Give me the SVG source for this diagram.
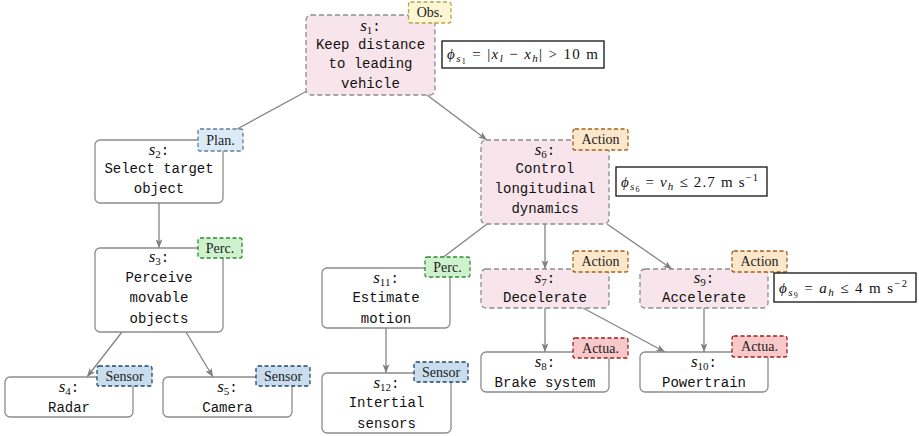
<svg xmlns="http://www.w3.org/2000/svg" width="919" height="436" viewBox="0 0 919 436">
<defs>
<marker id="arr" viewBox="0 0 10 8" refX="10" refY="4" markerWidth="9" markerHeight="7" markerUnits="userSpaceOnUse" orient="auto">
<path d="M0,0 L10,4 L0,8 L2.5,4 z" fill="#808080"/>
</marker>
<style>
.edge{stroke:#848484;stroke-width:1.3;fill:none;marker-end:url(#arr)}
.box{fill:#ffffff;stroke:#8c8c8c;stroke-width:1.3}
.dbox{fill:#f8e4eb;stroke:#8c8c8c;stroke-width:1.3;stroke-dasharray:5 3}
.tag{stroke-width:1.3;stroke-dasharray:4 2.5}
.obs{fill:#fdf6d4;stroke:#b2a545}
.plan{fill:#dbeaf7;stroke:#5d7f97}
.perc{fill:#cdf2cd;stroke:#2f8a2f}
.act{fill:#fde7cb;stroke:#a2621a}
.actua{fill:#f9c9c9;stroke:#a01c1c}
.sens{fill:#c9ddee;stroke:#1f4a6c}
.tt{font-family:"Liberation Serif","DejaVu Serif",serif;font-size:14px;fill:#222;text-anchor:middle}
.mono{font-family:"Liberation Mono","DejaVu Sans Mono",monospace;font-size:14px;fill:#111;text-anchor:middle}
.sv{font-family:"Liberation Serif","DejaVu Serif",serif;font-style:italic;font-size:17px}
.sub{font-family:"Liberation Serif","DejaVu Serif",serif;font-size:11px;font-style:normal}
.fbox{fill:#ffffff;stroke:#111;stroke-width:1.3}
.fm{font-family:"Liberation Serif","DejaVu Serif",serif;font-size:15px;fill:#111}
.it{font-style:italic}
</style>
</defs>

<g id="connectors">
<line class="edge" x1="307" y1="91" x2="217" y2="140"/>
<line class="edge" x1="427" y1="95" x2="487" y2="140"/>
<line class="edge" x1="159" y1="203" x2="159" y2="248"/>
<line class="edge" x1="122" y1="332" x2="87" y2="377"/>
<line class="edge" x1="186" y1="332" x2="213" y2="377"/>
<line class="edge" x1="487" y1="224" x2="429" y2="268"/>
<line class="edge" x1="545" y1="224" x2="545" y2="269"/>
<line class="edge" x1="607" y1="224" x2="672" y2="269"/>
<line class="edge" x1="545" y1="308" x2="545" y2="352"/>
<line class="edge" x1="583" y1="308" x2="665" y2="352"/>
<line class="edge" x1="704" y1="308" x2="704" y2="352"/>
<line class="edge" x1="386" y1="328" x2="386" y2="373"/>
</g>

<g id="s1">
<rect class="dbox" x="306" y="15" width="129" height="80" rx="5"/>
<text class="mono" x="370.5" y="31"><tspan class="sv">s</tspan><tspan class="sub" dy="3">1</tspan><tspan dy="-3">:</tspan></text>
<text class="mono" x="370.5" y="49">Keep distance</text>
<text class="mono" x="370.5" y="68">to leading</text>
<text class="mono" x="370.5" y="88">vehicle</text>
<rect class="tag obs" x="408.5" y="2" width="42.5" height="21" rx="2"/>
<text class="tt" x="429.75" y="17">Obs.</text>
<rect class="fbox" x="442" y="41" width="162" height="27"/>
<text class="fm" x="447" y="59" textLength="151" lengthAdjust="spacing"><tspan class="it">ϕ</tspan><tspan class="it" font-size="11" dy="3">s</tspan><tspan font-size="8" dy="1.5">1</tspan><tspan dy="-4.5"> = |</tspan><tspan class="it">x</tspan><tspan class="it" font-size="11" dy="2.5">l</tspan><tspan dy="-2.5"> − </tspan><tspan class="it">x</tspan><tspan class="it" font-size="11" dy="2.5">h</tspan><tspan dy="-2.5">| &gt; 10 m</tspan></text>
</g>

<g id="s2">
<rect class="box" x="95" y="140" width="128" height="63" rx="5"/>
<text class="mono" x="159" y="155"><tspan class="sv">s</tspan><tspan class="sub" dy="3">2</tspan><tspan dy="-3">:</tspan></text>
<text class="mono" x="159" y="173">Select target</text>
<text class="mono" x="159" y="193">object</text>
<rect class="tag plan" x="198" y="129" width="45" height="22" rx="2"/>
<text class="tt" x="220.5" y="144.5">Plan.</text>
</g>

<g id="s3">
<rect class="box" x="95" y="248" width="128" height="84" rx="5"/>
<text class="mono" x="159" y="262"><tspan class="sv">s</tspan><tspan class="sub" dy="3">3</tspan><tspan dy="-3">:</tspan></text>
<text class="mono" x="159" y="282">Perceive</text>
<text class="mono" x="159" y="302">movable</text>
<text class="mono" x="159" y="323">objects</text>
<rect class="tag perc" x="198" y="238" width="44" height="20" rx="2"/>
<text class="tt" x="220" y="252.5">Perc.</text>
</g>

<g id="s4">
<rect class="box" x="5" y="377" width="128" height="40" rx="5"/>
<text class="mono" x="69" y="392"><tspan class="sv">s</tspan><tspan class="sub" dy="3">4</tspan><tspan dy="-3">:</tspan></text>
<text class="mono" x="69" y="412">Radar</text>
<rect class="tag sens" x="97" y="366" width="55" height="20" rx="2"/>
<text class="tt" x="124.5" y="380.5">Sensor</text>
</g>

<g id="s5">
<rect class="box" x="163" y="377" width="129" height="40" rx="5"/>
<text class="mono" x="227.5" y="392"><tspan class="sv">s</tspan><tspan class="sub" dy="3">5</tspan><tspan dy="-3">:</tspan></text>
<text class="mono" x="227.5" y="412">Camera</text>
<rect class="tag sens" x="256" y="366" width="54" height="20" rx="2"/>
<text class="tt" x="283" y="380.5">Sensor</text>
</g>

<g id="s6">
<rect class="dbox" x="481" y="140" width="128" height="84" rx="5"/>
<text class="mono" x="545" y="155"><tspan class="sv">s</tspan><tspan class="sub" dy="3">6</tspan><tspan dy="-3">:</tspan></text>
<text class="mono" x="545" y="173">Control</text>
<text class="mono" x="545" y="193">longitudinal</text>
<text class="mono" x="545" y="213">dynamics</text>
<rect class="tag act" x="573" y="129" width="55" height="21" rx="2"/>
<text class="tt" x="600.5" y="144">Action</text>
<rect class="fbox" x="616" y="167" width="151" height="29"/>
<text class="fm" x="621" y="187" textLength="137" lengthAdjust="spacing"><tspan class="it">ϕ</tspan><tspan class="it" font-size="11" dy="3">s</tspan><tspan font-size="8" dy="1.5">6</tspan><tspan dy="-4.5"> = </tspan><tspan class="it">v</tspan><tspan class="it" font-size="11" dy="2.5">h</tspan><tspan dy="-2.5"> ≤ 2.7 m s</tspan><tspan font-size="10.5" dy="-6">−1</tspan></text>
</g>

<g id="s7">
<rect class="dbox" x="481" y="269" width="128" height="39" rx="5"/>
<text class="mono" x="545" y="283"><tspan class="sv">s</tspan><tspan class="sub" dy="3">7</tspan><tspan dy="-3">:</tspan></text>
<text class="mono" x="545" y="302">Decelerate</text>
<rect class="tag act" x="573" y="251" width="55" height="21" rx="2"/>
<text class="tt" x="600.5" y="266">Action</text>
</g>

<g id="s8">
<rect class="box" x="481" y="352" width="128" height="40" rx="5"/>
<text class="mono" x="545" y="367"><tspan class="sv">s</tspan><tspan class="sub" dy="3">8</tspan><tspan dy="-3">:</tspan></text>
<text class="mono" x="545" y="387">Brake system</text>
<rect class="tag actua" x="573" y="338" width="55" height="20" rx="2"/>
<text class="tt" x="600.5" y="352.5">Actua.</text>
</g>

<g id="s9">
<rect class="dbox" x="640" y="269" width="128" height="39" rx="5"/>
<text class="mono" x="704" y="283"><tspan class="sv">s</tspan><tspan class="sub" dy="3">9</tspan><tspan dy="-3">:</tspan></text>
<text class="mono" x="704" y="302">Accelerate</text>
<rect class="tag act" x="732" y="251" width="55" height="21" rx="2"/>
<text class="tt" x="759.5" y="266">Action</text>
<rect class="fbox" x="774" y="273" width="142" height="29"/>
<text class="fm" x="779" y="293" textLength="128" lengthAdjust="spacing"><tspan class="it">ϕ</tspan><tspan class="it" font-size="11" dy="3">s</tspan><tspan font-size="8" dy="1.5">9</tspan><tspan dy="-4.5"> = </tspan><tspan class="it">a</tspan><tspan class="it" font-size="11" dy="2.5">h</tspan><tspan dy="-2.5"> ≤ 4 m s</tspan><tspan font-size="10.5" dy="-6">−2</tspan></text>
</g>

<g id="s10">
<rect class="box" x="640" y="352" width="128" height="40" rx="5"/>
<text class="mono" x="704" y="367"><tspan class="sv">s</tspan><tspan class="sub" dy="3">10</tspan><tspan dy="-3">:</tspan></text>
<text class="mono" x="704" y="387">Powertrain</text>
<rect class="tag actua" x="732" y="336" width="55" height="21" rx="2"/>
<text class="tt" x="759.5" y="351">Actua.</text>
</g>

<g id="s11">
<rect class="box" x="322" y="268" width="128" height="60" rx="5"/>
<text class="mono" x="386" y="283"><tspan class="sv">s</tspan><tspan class="sub" dy="3">11</tspan><tspan dy="-3">:</tspan></text>
<text class="mono" x="386" y="302">Estimate</text>
<text class="mono" x="386" y="323">motion</text>
<rect class="tag perc" x="425" y="257" width="45" height="20" rx="2"/>
<text class="tt" x="447.5" y="271.5">Perc.</text>
</g>

<g id="s12">
<rect class="box" x="322" y="373" width="129" height="60" rx="5"/>
<text class="mono" x="386.5" y="388"><tspan class="sv">s</tspan><tspan class="sub" dy="3">12</tspan><tspan dy="-3">:</tspan></text>
<text class="mono" x="386.5" y="407">Intertial</text>
<text class="mono" x="386.5" y="428">sensors</text>
<rect class="tag sens" x="414" y="362" width="54" height="20" rx="2"/>
<text class="tt" x="441" y="376.5">Sensor</text>
</g>
</svg>
